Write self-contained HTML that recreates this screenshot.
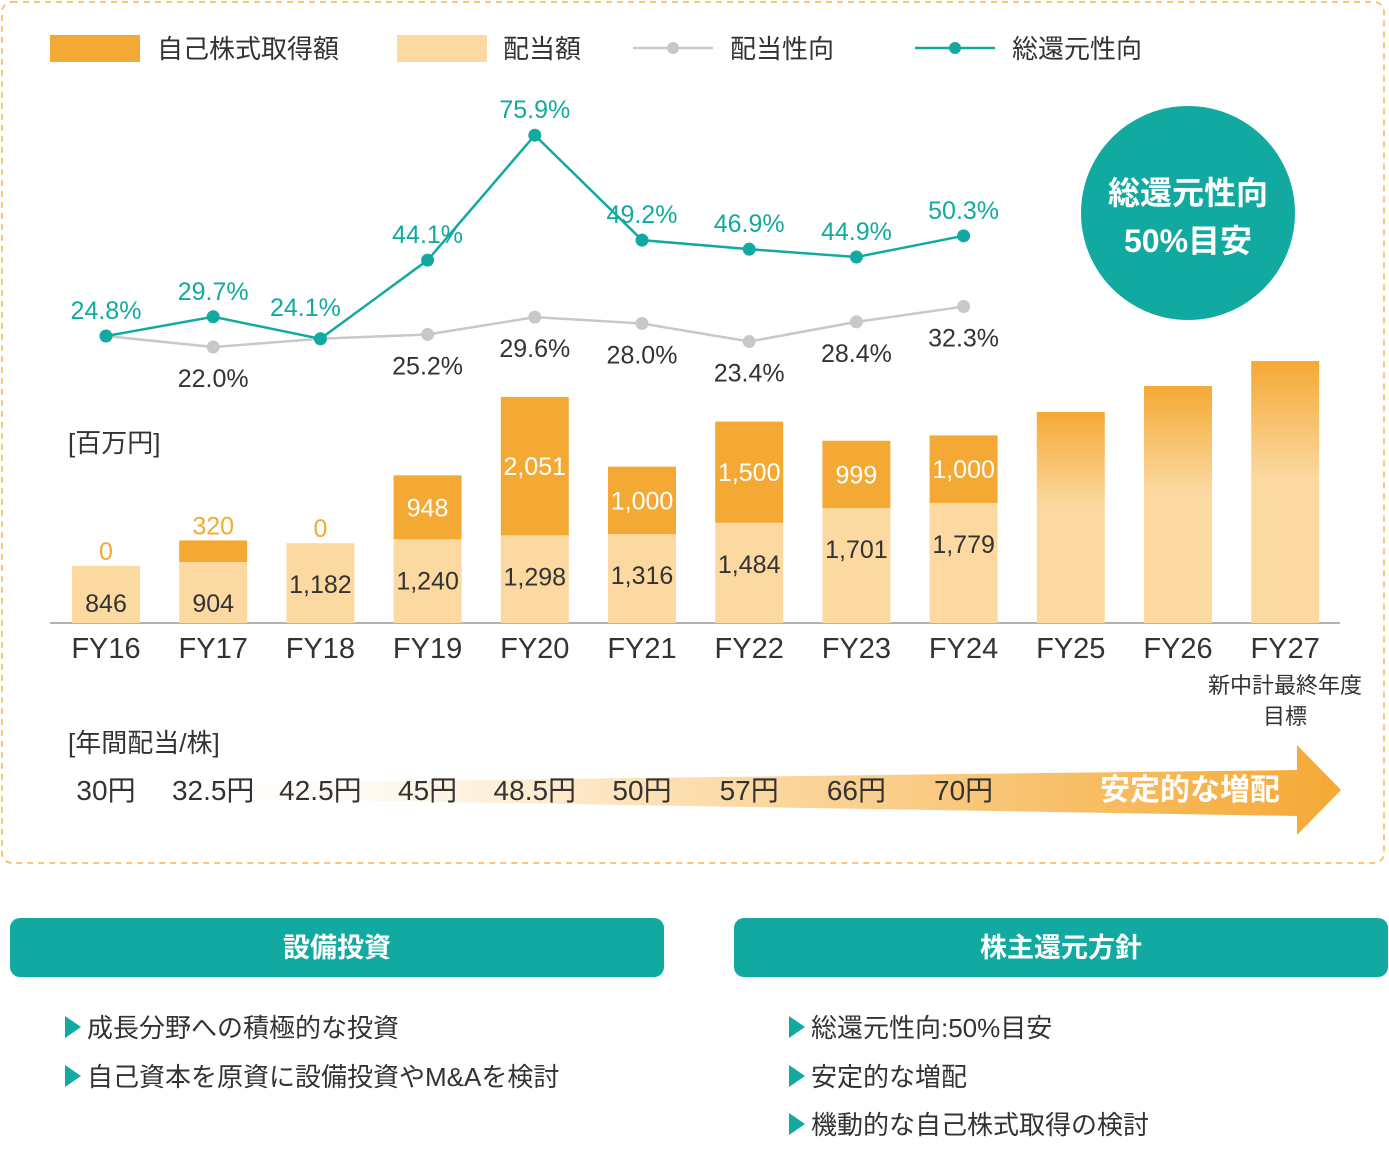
<!DOCTYPE html>
<html><head><meta charset="utf-8"><style>
body{margin:0;background:#fff;font-family:"Liberation Sans","Noto Sans CJK JP",sans-serif;}
svg text{font-family:"Liberation Sans","Noto Sans CJK JP",sans-serif;}
</style></head><body>
<svg id="c" width="1389" height="1146" viewBox="0 0 1389 1146" xmlns="http://www.w3.org/2000/svg">
<defs>
<linearGradient id="fut" x1="0" y1="0" x2="0" y2="1"><stop offset="0" stop-color="#f5a935"/><stop offset="0.45" stop-color="#fbd9a1"/><stop offset="1" stop-color="#fbd9a1"/></linearGradient>
<linearGradient id="arr" x1="0" y1="0" x2="1" y2="0"><stop offset="0" stop-color="#fff" stop-opacity="0"/><stop offset="0.4" stop-color="#fde3bb"/><stop offset="1" stop-color="#f5a935"/></linearGradient>
</defs>
<rect x="2" y="2" width="1382" height="861" rx="10" fill="none" stroke="#f5b54a" stroke-width="1.5" stroke-dasharray="6,5"/>
<g>
<rect x="50" y="35" width="90" height="27" fill="#f5a935"/>
<text x="157" y="58" font-size="26" fill="#333">自己株式取得額</text>
<rect x="397" y="35" width="90" height="27" fill="#fbd9a1"/>
<text x="503" y="58" font-size="26" fill="#333">配当額</text>
<line x1="633" y1="48" x2="713" y2="48" stroke="#c8c8c8" stroke-width="2.5"/><circle cx="673" cy="48" r="6" fill="#c8c8c8"/>
<text x="730" y="58" font-size="26" fill="#333">配当性向</text>
<line x1="915" y1="48" x2="995" y2="48" stroke="#12aaa0" stroke-width="2.5"/><circle cx="955" cy="48" r="6" fill="#12aaa0"/>
<text x="1012" y="58" font-size="26" fill="#333">総還元性向</text>
</g>
<circle cx="1188" cy="213" r="107" fill="#12aaa0"/>
<text x="1188" y="204" font-size="32" font-weight="bold" fill="#fff" text-anchor="middle">総還元性向</text>
<text x="1188" y="252" font-size="32" font-weight="bold" fill="#fff" text-anchor="middle">50%目安</text>
<text x="68" y="452" font-size="26" fill="#333">[百万円]</text>
<text x="68" y="752" font-size="26" fill="#333">[年間配当/株]</text>
<polygon points="140,784 1297,770 1297,745 1341,790 1297,835 1297,816 140,797" fill="url(#arr)"/>
<text x="1190" y="800" font-size="30" font-weight="bold" fill="#fff" text-anchor="middle">安定的な増配</text>
<line x1="50" y1="623" x2="1340" y2="623" stroke="#999" stroke-width="1.5"/>
<text x="1285" y="693" font-size="22" fill="#333" text-anchor="middle">新中計最終年度</text>
<text x="1285" y="724" font-size="22" fill="#333" text-anchor="middle">目標</text>
<g id="marks"></g>
<rect x="10" y="918" width="654" height="59" rx="10" fill="#12aaa0"/>
<text x="337" y="957" font-size="27" font-weight="bold" fill="#fff" text-anchor="middle">設備投資</text>
<rect x="734" y="918" width="654" height="59" rx="10" fill="#12aaa0"/>
<text x="1061" y="957" font-size="27" font-weight="bold" fill="#fff" text-anchor="middle">株主還元方針</text>
<g font-size="26" fill="#333">
<polygon points="65,1016 81,1027 65,1038" fill="#12aaa0"/><text x="87" y="1037">成長分野への積極的な投資</text>
<polygon points="65,1065 81,1076 65,1087" fill="#12aaa0"/><text x="87" y="1086">自己資本を原資に設備投資やM&amp;Aを検討</text>
<polygon points="789,1016 805,1027 789,1038" fill="#12aaa0"/><text x="811" y="1037">総還元性向:50%目安</text>
<polygon points="789,1065 805,1076 789,1087" fill="#12aaa0"/><text x="811" y="1086">安定的な増配</text>
<polygon points="789,1113 805,1124 789,1135" fill="#12aaa0"/><text x="811" y="1134">機動的な自己株式取得の検討</text>
</g>
</svg>
<script>
const categories=["FY16","FY17","FY18","FY19","FY20","FY21","FY22","FY23","FY24","FY25","FY26","FY27"];
const dividends=[846,904,1182,1240,1298,1316,1484,1701,1779];
const buybacks=[0,320,0,948,2051,1000,1500,999,1000];
const futureTotals=[3126,3511,3881];
const payoutRatio=[24.8,22.0,24.1,25.2,29.6,28.0,23.4,28.4,32.3];
const totalReturn=[24.8,29.7,24.1,44.1,75.9,49.2,46.9,44.9,50.3];
const dpsLabels=["30円","32.5円","42.5円","45円","48.5円","50円","57円","66円","70円"];
const NS="http://www.w3.org/2000/svg";
const g=document.getElementById("marks");
const X=i=>106+i*107.2;
const Y=v=>623-v*0.0675;
const P=v=>433.5-v*3.93;
const BW=68;
function mk(t,a){const e=document.createElementNS(NS,t);for(const k in a)e.setAttribute(k,a[k]);g.appendChild(e);return e;}
function tx(x,y,s,size,fill,w){const e=mk("text",{x:x,y:y,"font-size":size,fill:fill,"text-anchor":"middle"});if(w)e.setAttribute("font-weight",w);e.textContent=s;return e;}
categories.forEach((c,i)=>{
  const t=tx(X(i),658,c,29,"#333");
  
  
});
dividends.forEach((d,i)=>{
  const b=buybacks[i];
  const r1=mk("rect",{x:X(i)-BW/2,y:Y(d),width:BW,height:623-Y(d),fill:"#fbd9a1"});
  
  
  const r2=mk("rect",{x:X(i)-BW/2,y:Y(d+b),width:BW,height:Y(d)-Y(d+b),fill:"#f5a935"});
  
  
  const dl=tx(X(i),Math.min(Y(d)+50,612),d.toLocaleString("en-US"),25,"#333");
  
  
  let bl;
  if(b<400){bl=tx(X(i),Y(d+b)-6,String(b),25,"#f5a935");}
  else{bl=tx(X(i),(Y(d+b)+Y(d))/2+9,b.toLocaleString("en-US"),25,"#fff");}
  
  
  const dp=tx(X(i),800,dpsLabels[i],28,"#333");
  
  
});
futureTotals.forEach((v,k)=>{
  const i=9+k;
  const r=mk("rect",{x:X(i)-BW/2,y:Y(v),width:BW,height:623-Y(v),fill:"url(#fut)"});
  
  
});
function line(vals,color,name){
  const pl=mk("polyline",{points:vals.map((v,i)=>X(i)+","+P(v)).join(" "),fill:"none",stroke:color,"stroke-width":2.5});
  
  
  vals.forEach((v,i)=>{
    const c=mk("circle",{cx:X(i),cy:P(v),r:6.5,fill:color});
    
    
  });
}
line(payoutRatio,"#c8c8c8","payout-ratio");
line(totalReturn,"#12aaa0","total-return");
payoutRatio.forEach((v,i)=>{
  if(i===0||i===2)return;
  const t=tx(X(i),P(v)+40,v.toFixed(1)+"%",25,"#333");
  
  
});
totalReturn.forEach((v,i)=>{
  const x=i===2?X(i)-15:X(i);
  const y=i===2?P(v)-23:P(v)-17;
  const t=tx(x,y,v.toFixed(1)+"%",25,"#12aaa0");
  
  
});
</script>
</body></html>
